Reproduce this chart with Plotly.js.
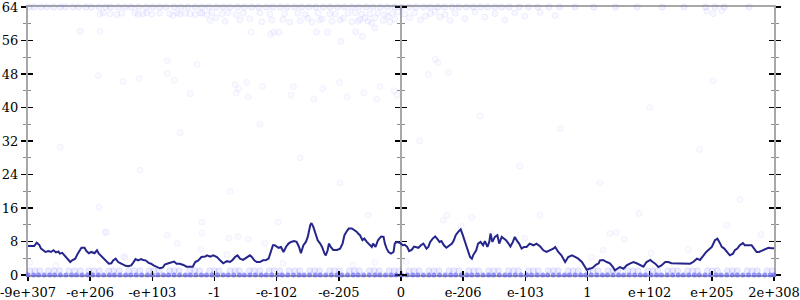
<!DOCTYPE html>
<html>
<head>
<meta charset="utf-8">
<script src="https://cdn.plot.ly/plotly-3.0.1.min.js"></script>
<style>html,body{margin:0;padding:0;background:#fff;}#chart{width:800px;height:300px;}</style>
</head>
<body>
<div id="chart"></div>
<script>
// ---- tick labels (axis positions 0..12) ----
const tickPos = [0,1,2,3,4,5,6,7,8,9,10,11,12];
const tickLabels = ['-9e+307','-e+206','-e+103','-1','-e-102','-e-205','0','e-206','e-103','1','e+102','e+205','2e+308'];

// ---- running line ----
const lineX = [0.00,0.10,0.14,0.18,0.21,0.25,0.28,0.33,0.37,0.41,0.45,0.49,0.51,0.55,0.60,0.64,0.68,0.71,0.76,0.80,0.84,0.86,0.91,0.94,0.98,1.02,1.07,1.11,1.14,1.19,1.23,1.27,1.30,1.34,1.37,1.41,1.45,1.50,1.53,1.57,1.61,1.66,1.69,1.73,1.77,1.82,1.85,1.89,1.94,1.98,2.02,
2.07,2.12,2.17,2.20,2.26,2.31,2.35,2.39,2.44,2.50,2.55,2.61,2.65,2.69,2.74,2.79,2.85,2.88,2.93,2.98,3.04,3.09,3.14,3.20,3.25,3.29,3.33,3.37,3.41,3.46,3.52,3.57,3.60,3.64,3.68,3.73,3.78,3.83,3.87,3.90,3.94,3.97,
4.00,4.03,4.07,4.11,4.15,4.19,4.23,4.28,4.32,4.36,4.39,4.43,4.47,4.50,4.54,4.56,4.59,4.62,4.66,4.70,4.73,4.77,4.79,4.82,4.84,4.87,4.91,4.97,5.02,5.06,5.09,5.13,5.16,5.21,5.25,5.29,5.31,5.34,5.38,5.41,5.45,5.48,5.53,5.55,5.59,5.63,5.68,5.72,5.74,5.77,5.80,5.84,5.88,5.90,5.93,5.98,
6.03,6.06,6.10,6.13,6.17,6.21,6.24,6.28,6.32,6.36,6.39,6.41,6.44,6.47,6.51,6.55,6.58,6.62,6.65,6.69,6.73,6.78,6.82,6.85,6.88,6.92,6.96,6.99,7.03,7.07,7.11,7.14,7.16,7.21,7.24,7.28,7.32,7.35,7.39,7.42,7.44,7.47,7.51,7.55,7.58,7.62,7.66,7.69,7.73,7.76,7.80,7.83,7.87,7.90,7.94,7.98,
8.02,8.05,8.07,8.13,8.18,8.24,8.29,8.34,8.40,8.45,8.48,8.53,8.58,8.64,8.69,8.75,8.80,8.85,8.91,8.94,8.99,9.03,9.08,9.14,9.18,9.20,9.25,9.31,9.36,9.41,9.44,9.48,9.52,9.58,9.63,9.68,9.74,9.79,9.84,9.90,9.95,
10.01,10.05,10.09,10.14,10.19,10.25,10.30,10.35,10.41,10.49,10.57,10.65,10.70,10.76,10.81,10.86,10.91,10.94,11.00,11.05,11.09,11.12,11.16,11.20,11.24,11.29,11.34,11.37,11.41,11.45,11.50,11.53,11.59,11.64,11.68,11.72,11.76,11.82,11.85,11.91,11.96,12.00];
const lineY = [6.9,6.9,7.7,7.2,6.3,5.9,5.5,5.7,5.5,5.9,5.4,5.6,5.1,5.3,4.4,3.6,3.1,3.5,3.9,5.1,5.9,6.5,6.5,5.7,5.2,5.5,5.2,5.9,5.1,4.3,3.6,3.1,2.7,2.8,3.5,3.9,3.1,2.7,2.4,2.2,2.1,2.3,2.9,3.8,3.5,3.8,3.6,3.5,2.9,2.7,2.3,
2.0,1.6,1.8,2.5,2.8,3.1,3.2,2.7,2.7,2.4,2.0,2.0,2.0,3.1,3.5,4.3,4.4,4.7,4.4,4.7,4.3,3.5,2.8,3.3,3.1,3.6,4.3,4.7,3.9,3.6,4.3,4.7,4.3,3.5,3.1,3.1,3.5,3.6,3.9,5.1,7.1,7.1,
6.7,6.5,6.7,5.5,6.7,7.5,7.9,8.1,7.9,6.7,5.2,7.1,7.9,9.1,11.9,12.4,11.5,9.9,8.3,7.5,6.7,5.1,4.7,5.9,7.5,6.7,6.0,6.0,6.3,7.5,9.5,10.5,11.1,11.1,10.8,10.3,9.9,9.5,8.3,8.7,7.9,7.5,6.7,7.5,6.7,8.3,9.2,9.1,7.5,6.3,5.5,5.1,5.5,7.5,7.9,7.7,
7.1,7.2,6.7,5.7,6.0,6.8,6.7,6.5,7.1,7.5,6.8,6.3,6.7,7.9,8.7,9.2,8.7,7.9,8.1,7.1,6.5,7.1,7.5,8.3,9.5,10.3,10.9,9.7,7.9,5.9,4.3,3.9,4.7,5.9,7.5,7.9,7.1,8.1,6.7,7.9,9.9,7.9,9.1,9.5,7.5,9.1,8.7,8.3,7.5,6.8,7.9,9.1,8.1,7.5,6.3,6.7,
6.7,7.1,7.5,7.1,7.5,6.8,5.9,5.5,5.9,6.3,6.7,5.5,4.7,3.1,4.3,4.7,4.3,3.9,3.1,2.3,1.2,1.5,1.7,2.5,2.8,3.5,3.6,3.1,2.8,1.9,1.1,1.5,1.9,1.5,2.3,2.7,3.1,2.8,2.4,2.0,3.1,
3.6,3.1,2.7,1.9,2.3,3.1,3.1,2.8,2.8,2.7,2.8,2.7,3.1,3.9,3.6,4.7,5.5,5.9,6.7,8.3,8.7,7.9,6.7,6.3,5.5,4.7,5.1,5.9,6.3,7.1,7.6,7.1,7.1,7.1,6.3,5.5,5.5,5.9,6.0,6.5,6.4,6.4];

// ---- sample points: bottom rows (value 0 and value 1) ----
const zeroX = [0.00,0.09,0.17,0.26,0.35,0.43,0.52,0.61,0.70,0.78,0.87,0.96,1.04,1.13,1.22,1.31,1.39,1.48,1.57,1.65,1.74,1.83,1.92,2.00,2.09,2.18,2.26,2.35,2.44,2.53,2.61,2.70,2.79,2.87,2.96,3.05,3.14,3.22,3.31,3.40,3.48,3.57,3.66,3.75,3.83,3.92,4.01,4.09,4.18,4.27,4.36,4.44,4.53,4.62,4.70,4.79,4.88,4.97,5.05,5.14,5.23,5.31,5.40,5.49,5.58,5.66,5.75,5.84,5.92,6.01,6.10,6.19,6.27,6.36,6.45,6.53,6.62,6.71,6.80,6.88,6.97,7.06,7.14,7.23,7.32,7.41,7.49,7.58,7.67,7.75,7.84,7.93,8.02,8.10,8.19,8.28,8.36,8.45,8.54,8.63,8.71,8.80,8.89,8.97,9.06,9.15,9.24,9.32,9.41,9.50,9.58,9.67,9.76,9.85,9.93,10.02,10.11,10.19,10.28,10.37,10.46,10.54,10.63,10.72,10.80,10.89,10.98,11.07,11.15,11.24,11.33,11.41,11.50,11.59,11.68,11.76,11.85,11.94,12.00];
const zeroY = zeroX.map(() => 0);
const oneX = [0.03,0.19,0.33,0.51,0.66,0.84,0.98,1.15,1.30,1.47,1.62,1.80,1.95,2.11,2.28,2.43,2.60,2.76,2.92,3.07,3.25,3.40,3.56,3.73,3.88,4.05,4.20,4.37,4.53,4.69,4.85,5.01,5.17,5.33,5.49,5.65,5.81,5.97,6.13,6.29,6.45,6.61,6.77,6.93,7.09,7.25,7.41,7.57,7.73,7.89,8.05,8.21,8.37,8.53,8.69,8.85,9.01,9.17,9.33,9.49,9.65,9.81,9.97,10.13,10.29,10.45,10.61,10.77,10.93,11.09,11.25,11.41,11.57,11.73,11.89,
0.11,0.42,0.75,1.06,1.38,1.71,2.02,2.35,2.68,3.00,3.33,3.64,3.96,4.29,4.61,4.93,5.25,5.57,5.89,6.21,6.53,6.85,7.17,7.49,7.81,8.13,8.45,8.77,9.09,9.41,9.73,10.05,10.37,10.69,11.01,11.33,11.65,11.97];
const oneY = oneX.map(() => 1);

// ---- sample points: top row (value 64) ----
const topX = [0.02,0.10,0.21,0.30,0.41,0.52,0.60,0.72,0.81,0.93,1.02,1.14,1.25,1.33,1.45,1.56,1.66,1.78,1.90,2.01,2.12,2.22,2.35,2.46,2.57,2.69,2.80,2.91,3.03,3.14,3.25,3.37,3.48,3.60,3.71,3.83,3.94,4.06,4.17,4.29,4.40,4.52,4.63,4.75,4.86,4.98,5.09,5.21,5.32,5.44,5.55,5.67,5.78,5.90,6.01,6.13,6.24,6.36,6.47,6.59,6.70,6.82,6.93,7.05,7.16,7.28,7.39,7.51,7.62,7.74,7.90,8.05,8.20,8.38,8.55,8.80,9.10,9.45,9.80,10.20,10.55,10.90,11.05,11.20,11.60];
const topY = topX.map(() => 64);

// ---- sample points: upper cluster ----
const upperX = [1.16,1.21,1.32,1.43,1.51,1.72,1.77,1.85,1.91,1.99,2.12,2.28,2.33,2.40,2.44,2.53,2.61,2.69,2.77,
2.80,2.88,2.96,3.12,3.22,3.35,3.46,3.73,3.89,4.13,4.34,4.46,4.66,4.86,4.94,5.15,5.26,5.37,5.50,5.63,5.74,5.86,
2.93,3.02,3.17,3.41,3.57,3.76,3.92,4.10,4.21,4.38,4.50,4.57,4.69,4.73,4.89,5.02,5.07,5.21,5.34,5.47,5.58,5.71,5.82,5.90,
5.31,5.42,5.53,5.79,5.95,6.06,6.14,6.22,6.31,6.39,6.47,6.55,6.63,6.71,6.79,6.87,7.03,7.19,7.35,7.51,7.67,7.83,7.99,8.24,8.48,10.92,11.02,11.16,
0.84,3.95,4.04,4.64,4.82,5.27,5.38,5.03,5.58];
const upperY = [62.3,62.6,62.4,62.2,62.5,62.6,62.2,62.4,62.6,62.3,62.5,62.4,62.0,62.6,62.3,62.5,62.4,62.2,62.6,
62.5,62.2,62.7,62.4,62.6,62.2,62.5,62.6,62.3,62.4,62.5,62.2,62.6,62.4,62.3,62.5,62.6,62.3,62.4,62.6,62.2,62.5,
60.8,61.4,60.6,60.9,61.2,60.5,60.9,61.0,60.4,60.7,61.3,60.4,60.9,61.2,60.6,60.9,61.3,60.5,61.0,60.6,61.4,60.8,60.4,61.1,
60.6,61.4,60.2,61.8,62.8,62.3,61.5,62.6,60.9,61.8,62.4,62.9,61.6,62.2,60.8,62.5,61.2,62.8,61.6,62.4,60.9,62.6,61.8,62.7,62.0,63.0,62.4,63.1,
58.2,58.0,58.0,58.0,58.0,58.1,57.0,55.8,59.0];

// ---- sample points: scattered ----
const midX = [1.16,1.13,1.53,1.79,2.24,2.24,2.61,2.72,3.59,3.90,2.35,3.33,3.77,3.39,3.52,4.27,4.74,5.01,5.66,
3.35,3.54,4.23,4.60,5.13,5.40,5.61,5.89,5.94,6.55,6.59,6.44,6.76,11.02,
1.14,1.26,2.24,2.40,0.03,1.56,2.80,2.80,3.23,3.38,3.54,3.81,4.02,2.78,3.20,1.24,1.54,0.45,5.47,4.10,5.23,5.58,6.74,6.68,7.14,6.08,7.46,7.99,6.97,8.24,9.06,9.83,9.25,9.36,9.46,9.59,10.02,10.62,11.24,11.79,
0.52,1.80,2.45,3.25,3.73,4.38,5.02,6.30,7.27,7.91,8.56,9.20,10.00,10.80,11.45];
const midY = [58.2,47.6,46.2,46.9,51.2,48.1,43.3,50.3,58.0,57.5,46.5,45.5,45.0,44.5,46.0,45.0,44.5,46.0,45.0,
43.5,42.5,43.0,42.0,42.5,43.5,42.0,44.0,43.0,51.5,50.7,47.9,48.4,46.4,
16.2,10.2,9.5,7.5,3.0,4.2,12.6,10.0,8.8,9.2,8.5,7.6,12.6,6.1,4.9,10.2,4.4,2.3,14.3,2.8,2.3,3.0,14.3,13.1,13.8,3.2,10.0,8.8,11.6,14.3,4.2,14.7,5.9,9.9,10.2,8.5,5.2,6.1,11.9,9.7,
30.5,25.0,34.0,20.0,36.0,28.0,22.0,32.0,38.0,26.0,35.0,22.0,40.0,30.0,18.0];

const pts = (x, y, fill, edge, size, lw) => ({
  type: 'scatter', mode: 'markers', x: x, y: y, cliponaxis: false,
  marker: {size: size, color: fill, line: {color: edge, width: lw}}, hoverinfo: 'skip', showlegend: false
});

const traces = [
  pts(midX, midY, 'rgba(120,120,255,0.04)', 'rgba(100,100,255,0.07)', 6, 1),
  pts(upperX, upperY, 'rgba(120,120,255,0.05)', 'rgba(100,100,255,0.09)', 6, 1),
  pts(topX, topY, 'rgba(110,110,255,0.08)', 'rgba(90,90,255,0.12)', 6, 1),
  pts(oneX, oneY, 'rgba(110,110,255,0.12)', 'rgba(90,90,255,0.14)', 6, 1),
  pts(zeroX, zeroY, 'rgba(70,70,240,0.55)', 'rgba(70,70,240,0)', 5, 0),
  {type: 'scatter', mode: 'lines', x: lineX, y: lineY, cliponaxis: false,
   line: {color: '#25258c', width: 2}, hoverinfo: 'skip', showlegend: false},
  {type: 'scatter', mode: 'markers', x: [], y: [], xaxis: 'x2', yaxis: 'y2', showlegend: false, hoverinfo: 'skip'},
  {type: 'scatter', mode: 'markers', x: [], y: [], xaxis: 'x', yaxis: 'y3', showlegend: false, hoverinfo: 'skip'},
  {type: 'scatter', mode: 'markers', x: [], y: [], xaxis: 'x', yaxis: 'y4', showlegend: false, hoverinfo: 'skip'}
];

const tickFont = {family: 'DejaVu Serif, serif', size: 13, color: '#000'};
const axisGray = '#a8a8a8';
const yBase = {range: [0, 64], tickmode: 'array', tickvals: [0,8,16,24,32,40,48,56,64],
  showgrid: false, zeroline: false, tickcolor: '#000', tickwidth: 1.5, ticklen: 5, fixedrange: true,
  ticklabeloverflow: 'allow'};
const yMinor = (dir) => ({tickvals: [4,12,20,28,36,44,52,60], ticks: dir, ticklen: 3, tickcolor: '#8a8a8a', tickwidth: 1});

const layout = {
  width: 800, height: 300,
  margin: {l: 28, r: 26, t: 7, b: 25, pad: 0},
  paper_bgcolor: '#fff', plot_bgcolor: '#fff',
  hovermode: false,
  xaxis: {range: [0, 12], tickmode: 'array', tickvals: tickPos, ticktext: tickLabels,
    ticks: 'outside', ticklen: 4, tickwidth: 1.5, tickcolor: '#000', ticklabeloverflow: 'allow',
    showline: true, mirror: true, linecolor: axisGray, linewidth: 2, layer: 'below traces',
    showgrid: false, zeroline: false, tickfont: tickFont, fixedrange: true},
  xaxis2: {range: [0, 12], overlaying: 'x', anchor: 'y', tickmode: 'array', tickvals: tickPos,
    ticks: 'inside', ticklen: 4, tickwidth: 1.5, tickcolor: '#000', showticklabels: false,
    showline: false, showgrid: false, zeroline: false, fixedrange: true},
  yaxis: Object.assign({}, yBase, {ticks: 'outside', showline: true, mirror: 'ticks',
    linecolor: axisGray, linewidth: 2, layer: 'below traces', tickfont: tickFont, minor: yMinor('outside')}),
  yaxis2: Object.assign({}, yBase, {overlaying: 'y', anchor: 'x', ticks: 'inside', mirror: 'ticks',
    showline: false, showticklabels: false, minor: yMinor('inside')}),
  yaxis3: Object.assign({}, yBase, {overlaying: 'y', anchor: 'free', position: 0.5, side: 'left',
    ticks: 'outside', showline: true, linecolor: axisGray, linewidth: 2, layer: 'below traces',
    showticklabels: false, minor: yMinor('outside')}),
  yaxis4: Object.assign({}, yBase, {overlaying: 'y', anchor: 'free', position: 0.5, side: 'right',
    ticks: 'outside', showline: false, showticklabels: false, minor: yMinor('outside')})
};

Plotly.newPlot('chart', traces, layout, {displayModeBar: false, staticPlot: true});
</script>
</body>
</html>
